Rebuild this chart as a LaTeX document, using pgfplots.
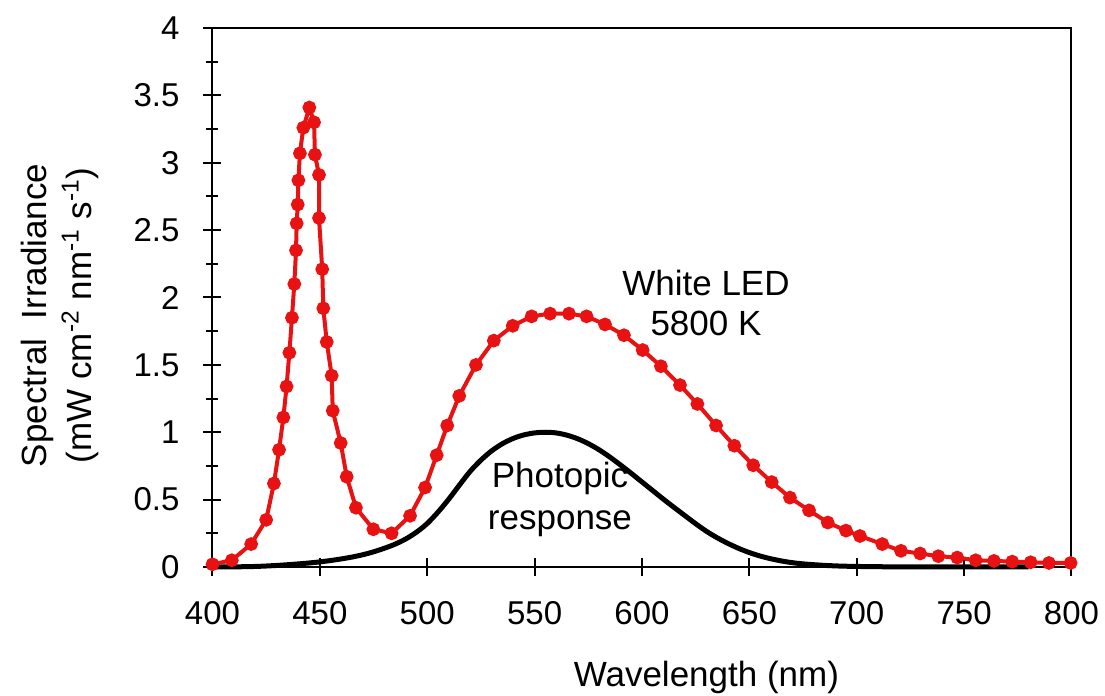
\documentclass[border=0pt]{standalone}
\usepackage{fontspec}
\setmainfont{Liberation Sans}
\usepackage{pgfplots}
\pgfplotsset{compat=1.18}
\definecolor{ledred}{RGB}{232,18,18}

\begin{document}
\begin{tikzpicture}
\begin{axis}[
  at={(0,0)}, anchor=south west,
  scale only axis, width=429.5pt, height=269.5pt,
  xmin=400, xmax=800, ymin=0, ymax=4,
  xtick={400,450,...,800}, ytick={0,0.5,...,4},
  minor y tick num=1,
  tick pos=left, tick align=center,
  major tick length=9pt, minor tick length=6pt,
  axis line style={line width=1pt},
  every tick/.style={black, line width=1pt},
  font=\fontsize{16.5}{19.8}\selectfont,
  /pgf/number format/assume math mode=true,
  yticklabel style={anchor=east, xshift=-8.5pt},
  xticklabel style={anchor=north, yshift=-9pt},
  xlabel={Wavelength (nm)},
  xlabel style={at={(axis description cs:0.575,-0.205)}, anchor=center, font=\fontsize{17.5}{21}\selectfont},
  ylabel={Spectral\ \ Irradiance\\(mW cm\textsuperscript{-2} nm\textsuperscript{-1} s\textsuperscript{-1})},
  ylabel style={align=center, at={(axis description cs:-0.178,0.467)}, anchor=center, font=\fontsize{17.5}{22.5}\selectfont},
  clip=false,
]
\addplot[black, line width=2.5pt, smooth] coordinates {
(400,0.0004) (405,0.00064) (410,0.0012) (415,0.00218) (420,0.004) (425,0.0073)
(430,0.0116) (435,0.01684) (440,0.023) (445,0.0298) (450,0.038) (455,0.048)
(460,0.06) (465,0.0739) (470,0.091) (475,0.1126) (480,0.139) (485,0.1693)
(490,0.208) (495,0.2586) (500,0.323) (505,0.4073) (510,0.503) (515,0.6082)
(520,0.71) (525,0.7932) (530,0.862) (535,0.9149) (540,0.954) (545,0.9803)
(550,0.995) (555,1.0) (560,0.995) (565,0.9786) (570,0.952) (575,0.9154)
(580,0.87) (585,0.8163) (590,0.757) (595,0.6949) (600,0.631) (605,0.5668)
(610,0.503) (615,0.4412) (620,0.381) (625,0.321) (630,0.265) (635,0.217)
(640,0.175) (645,0.1382) (650,0.107) (655,0.0816) (660,0.061) (665,0.04458)
(670,0.032) (675,0.0232) (680,0.017) (685,0.01192) (690,0.00821) (695,0.0057)
(700,0.0041) (710,0.0021) (720,0.00105) (740,0.00025) (760,0.00006) (780,0.00002)
};
\addplot[ledred, line width=2pt, mark=*, mark size=2.4pt, mark options={fill=ledred, draw=ledred}] coordinates {
(400,0.02) (409,0.05) (418,0.17) (425,0.35) (428.6,0.62) (431,0.87) (433,1.11)
(434.5,1.34) (435.8,1.59) (437,1.85) (438.1,2.10) (438.9,2.35) (439.2,2.55)
(439.7,2.69) (440,2.87) (440.7,3.07) (442.3,3.26) (445.1,3.41) (447.3,3.30)
(447.7,3.06) (449.6,2.91) (449.6,2.59) (451.1,2.21) (451.6,1.92) (453.2,1.67)
(455.5,1.42) (456,1.16) (459.7,0.92) (462.5,0.67) (466.8,0.44) (474.9,0.28)
(483.4,0.25) (492,0.38) (499,0.59) (504.4,0.83) (509.3,1.05) (514.9,1.27)
(522.7,1.50) (531,1.68) (539.8,1.79) (548.6,1.86) (557.2,1.88) (566,1.88)
(574.2,1.86) (582.8,1.80) (591.6,1.72) (600.3,1.61) (608.8,1.49) (617.7,1.35)
(625.8,1.21) (634.5,1.05) (643,0.90) (651.8,0.755) (660.4,0.63) (668.9,0.515)
(677.8,0.42) (686.5,0.33) (695,0.27) (701.5,0.23) (711.9,0.17) (720.6,0.12)
(729.5,0.10) (738,0.08) (746.8,0.07) (755.4,0.05) (763.9,0.045) (772.4,0.04)
(781,0.035) (789.5,0.03) (799.6,0.03)
};
\node[align=center, font=\fontsize{17.5}{20}\selectfont] at (axis cs:629.8,1.96) {White LED\\5800 K};
\node[align=center, font=\fontsize{17.5}{21}\selectfont] at (axis cs:561.8,0.50) {Photopic\\response};
\end{axis}
\pgfresetboundingbox
\path (-106.25pt,-64.5pt) rectangle (446.25pt,283.5pt);
\end{tikzpicture}
\end{document}
